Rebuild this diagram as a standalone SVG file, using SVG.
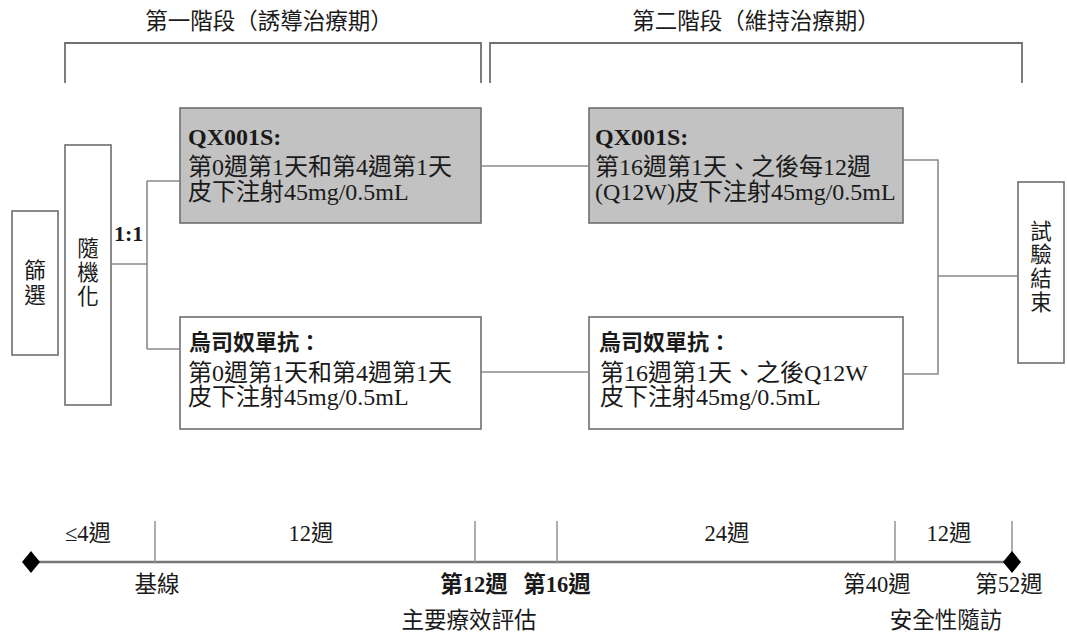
<svg xmlns="http://www.w3.org/2000/svg" width="1067" height="636" viewBox="0 0 1067 636">
<style>
text{font-family:"Liberation Serif","Noto Sans CJK TC",serif;fill:#1a1a1a}
.t{font-size:22.5px}
.b{font-size:24px}
.hd{font-size:24px;font-weight:bold}
.tl{font-size:22.5px}
.v{font-size:21.5px;text-anchor:middle}
.box{fill:#fff;stroke:#6e6e6e;stroke-width:1.6}
.gbox{fill:#c2c2c2;stroke:#6e6e6e;stroke-width:1.6}
.ln{fill:none;stroke:#8a8a8a;stroke-width:1.6}
.br{fill:none;stroke:#707070;stroke-width:1.8}
.tk{stroke:#999;stroke-width:1.6}
</style>
<rect width="1067" height="636" fill="#fff"/>
<g id="phase1">
<text class="t" x="269" y="29" text-anchor="middle">第一階段（誘導治療期）</text>
<path class="br" d="M65 83 V43 H481 V83"/>
</g>
<g id="phase2">
<text class="t" x="756" y="29" text-anchor="middle">第二階段（維持治療期）</text>
<path class="br" d="M490 83 V43 H1022 V83"/>
</g>
<g id="screening">
<rect class="box" x="12" y="211" width="46" height="144"/>
<text class="v" x="35" y="278">篩</text>
<text class="v" x="35" y="303">選</text>
</g>
<g id="random">
<rect class="box" x="65" y="145" width="46" height="260"/>
<text class="v" x="88" y="256">隨</text>
<text class="v" x="88" y="280">機</text>
<text class="v" x="88" y="304">化</text>
</g>
<g id="ratio">
<text x="114" y="241" style="font-size:22px;font-weight:bold">1:1</text>
</g>
<g id="qx-induction">
<rect class="gbox" x="180" y="108" width="301" height="115"/>
<text class="hd" x="188" y="145">QX001S:</text>
<text class="b" x="188" y="175">第0週第1天和第4週第1天</text>
<text class="b" x="188" y="200">皮下注射45mg/0.5mL</text>
</g>
<g id="ust-induction">
<rect class="box" x="180" y="317" width="301" height="112"/>
<text class="hd" x="189" y="350" style="font-family:'Noto Sans CJK TC',sans-serif;font-size:22px">烏司奴單抗：</text>
<text class="b" x="188" y="381">第0週第1天和第4週第1天</text>
<text class="b" x="188" y="405">皮下注射45mg/0.5mL</text>
</g>
<g id="qx-maint">
<rect class="gbox" x="589" y="108" width="314" height="115"/>
<text class="hd" x="595" y="145">QX001S:</text>
<text class="b" x="595" y="175">第16週第1天、之後每12週</text>
<text class="b" x="595" y="200">(Q12W)皮下注射45mg/0.5mL</text>
</g>
<g id="ust-maint">
<rect class="box" x="589" y="317" width="314" height="112"/>
<text class="hd" x="599" y="350" style="font-family:'Noto Sans CJK TC',sans-serif;font-size:22px">烏司奴單抗：</text>
<text class="b" x="600" y="381">第16週第1天、之後Q12W</text>
<text class="b" x="600" y="405">皮下注射45mg/0.5mL</text>
</g>
<g id="end">
<rect class="box" x="1018" y="182" width="46" height="181"/>
<text class="v" x="1041" y="239">試</text>
<text class="v" x="1041" y="262">驗</text>
<text class="v" x="1041" y="286">結</text>
<text class="v" x="1041" y="310">束</text>
</g>
<g id="connectors">
<path class="ln" d="M111 264 H147 M147 181 V349 M147 181 H180 M147 349 H180"/>
<path class="ln" d="M481 166 H589 M481 372 H589"/>
<path class="ln" d="M903 160 H938 V374 H903 M938 276 H1018"/>
</g>
<g id="timeline">
<line x1="31" y1="562" x2="1012" y2="562" stroke="#777" stroke-width="2.6"/>
<line class="tk" x1="155" y1="521" x2="155" y2="562"/>
<line class="tk" x1="475" y1="521" x2="475" y2="562"/>
<line class="tk" x1="557" y1="521" x2="557" y2="562"/>
<line class="tk" x1="895" y1="521" x2="895" y2="562"/>
<line class="tk" x1="1012" y1="521" x2="1012" y2="562"/>
<path d="M31 551 L40 562 L31 573 L22 562 Z" fill="#000"/>
<path d="M1012 551 L1021 562 L1012 573 L1003 562 Z" fill="#000"/>
<text class="tl" x="88" y="541" text-anchor="middle">≤4週</text>
<text class="tl" x="311" y="541" text-anchor="middle">12週</text>
<text class="tl" x="727" y="541" text-anchor="middle">24週</text>
<text class="tl" x="949" y="541" text-anchor="middle">12週</text>
<text class="tl" x="157" y="592" text-anchor="middle">基線</text>
<text class="tl" x="474" y="592" text-anchor="middle" font-weight="bold">第12週</text>
<text class="tl" x="557" y="592" text-anchor="middle" font-weight="bold">第16週</text>
<text class="tl" x="877" y="592" text-anchor="middle">第40週</text>
<text class="tl" x="1009" y="592" text-anchor="middle">第52週</text>
<text class="tl" x="469" y="628" text-anchor="middle">主要療效評估</text>
<text class="tl" x="946" y="628" text-anchor="middle">安全性隨訪</text>
</g>
</svg>
